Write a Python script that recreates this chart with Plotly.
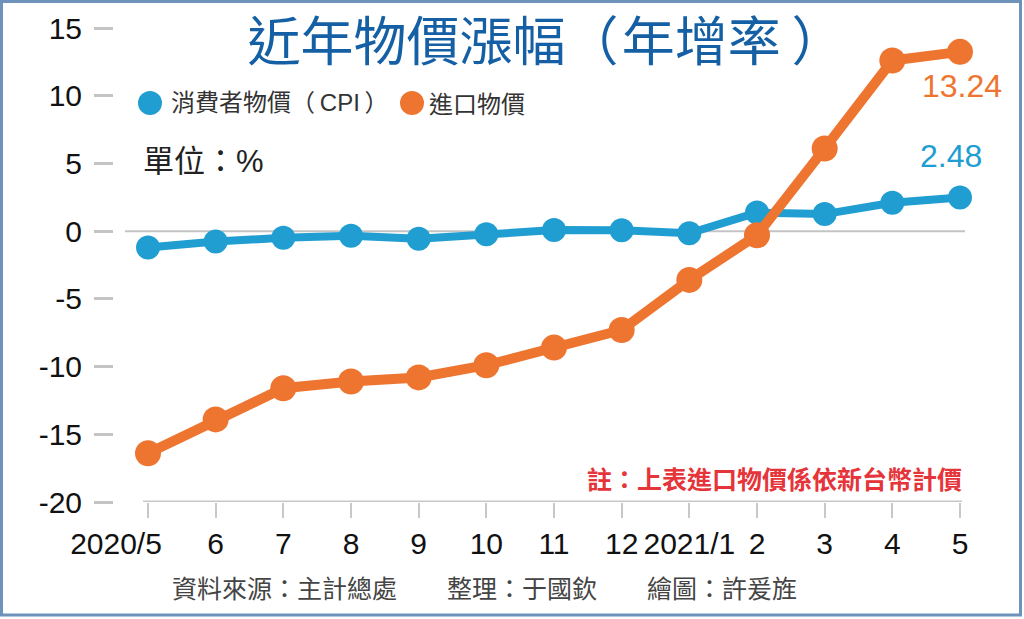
import plotly.graph_objects as go

# month labels on the x axis
months = ["2020/5", "6", "7", "8", "9", "10", "11", "12", "2021/1", "2", "3", "4", "5"]

# year-over-year change, %
cpi = [-1.20, -0.77, -0.49, -0.34, -0.57, -0.23, 0.08, 0.06, -0.16, 1.37, 1.26, 2.09, 2.48]
import_prices = [-16.4, -13.9, -11.6, -11.1, -10.8, -9.9, -8.6, -7.3, -3.6, -0.3, 6.1, 12.6, 13.24]

y_ticks = [-20, -15, -10, -5, 0, 5, 10, 15]

blue = "#219ed1"
orange = "#ee7530"
font_family = "Liberation Sans, Noto Sans CJK TC, sans-serif"
cjk_family = "Noto Sans CJK TC, sans-serif"

idx = list(range(len(months)))
last = len(months) - 1
x_range = [-0.5024, 12.074]

fig = go.Figure()

fig.add_trace(go.Scatter(
    x=idx, y=cpi, mode="lines+markers", name="消費者物價（CPI）",
    line=dict(color=blue, width=8),
    marker=dict(color=blue, size=24),
    cliponaxis=False, showlegend=False,
))
# on the overlay axis (same range) so it is drawn above the CPI line
fig.add_trace(go.Scatter(
    x=idx, y=import_prices, mode="lines+markers", name="進口物價",
    xaxis="x2",
    line=dict(color=orange, width=10),
    marker=dict(color=orange, size=26),
    cliponaxis=False, showlegend=False,
))

# plot area in pixels: x 114..965, y 28..502
def px(x):
    return (x - 114) / 851

def py(y):
    return (502 - y) / 474

shapes = [
    # outer frame
    dict(type="rect", xref="paper", yref="paper",
         x0=px(1.5), x1=px(1020.5), y0=py(615), y1=py(1.5),
         line=dict(color="#6f92bb", width=3), layer="below"),
    # zero line
    dict(type="line", xref="x", yref="y", x0=-0.34, x1=12.074, y0=0, y1=0,
         line=dict(color="#c4c4c4", width=2), layer="below"),
    # bottom axis line
    dict(type="line", xref="x", yref="y", x0=-0.074, x1=12.03, y0=-20, y1=-20,
         line=dict(color="#c8c8c8", width=3), layer="below"),
    # legend dots
    dict(type="circle", xref="paper", yref="paper", xsizemode="pixel", ysizemode="pixel",
         xanchor=px(150), yanchor=py(103), x0=-12, x1=12, y0=-12, y1=12,
         fillcolor=blue, line=dict(width=0)),
    dict(type="circle", xref="paper", yref="paper", xsizemode="pixel", ysizemode="pixel",
         xanchor=px(412), yanchor=py(103), x0=-12, x1=12, y0=-12, y1=12,
         fillcolor=orange, line=dict(width=0)),
]

annotations = [
    dict(text="消費者物價（\u2009CPI\u2009）", xref="paper", yref="paper", x=px(169), y=py(103),
         xanchor="left", yanchor="middle", showarrow=False,
         font=dict(family=font_family, size=24, color="#333333")),
    dict(text="進口物價", xref="paper", yref="paper", x=px(427), y=py(103),
         xanchor="left", yanchor="middle", showarrow=False,
         font=dict(family=cjk_family, size=24, color="#333333")),
    dict(text="單位：%", xref="paper", yref="paper", x=px(141), y=py(161),
         xanchor="left", yanchor="middle", showarrow=False,
         font=dict(family=font_family, size=31, color="#222222")),
    dict(text=f"{import_prices[-1]:.2f}", xref="x2", x=last, y=import_prices[-1],
         xshift=2, yshift=-34, showarrow=False, xanchor="center", yanchor="middle",
         font=dict(family=font_family, size=32, color=orange)),
    dict(text=f"{cpi[-1]:.2f}", x=last, y=cpi[-1],
         xshift=-9, yshift=42, showarrow=False, xanchor="center", yanchor="middle",
         font=dict(family=font_family, size=32, color=blue)),
    dict(text="<b>註：上表進口物價係依新台幣計價</b>", xref="paper", yref="paper",
         x=px(964), y=py(478), xanchor="right", yanchor="middle", showarrow=False,
         font=dict(family=cjk_family, size=25, color="#e5343a")),
    dict(text="資料來源：主計總處　　整理：于國欽　　繪圖：許爰旌", xref="paper", yref="paper",
         x=px(170), y=py(587), xanchor="left", yanchor="middle", showarrow=False,
         font=dict(family=cjk_family, size=25, color="#444444")),
]

tick_font = dict(size=30, color="#111111")

fig.update_layout(
    width=1024, height=619,
    margin=dict(l=114, r=59, t=28, b=117),
    paper_bgcolor="white", plot_bgcolor="white",
    font=dict(family=font_family, color="#111111"),
    title=dict(text="近年物價漲幅（\u200a年增率\u2009）", x=546 / 1024, xanchor="center",
               y=1 - 42 / 619, yanchor="middle",
               font=dict(family=cjk_family, size=53, color="#1560a5")),
    shapes=shapes, annotations=annotations,
    xaxis=dict(
        range=x_range, tickvals=idx, ticktext=[""] + months[1:],
        tickangle=0, automargin=False,
        showgrid=False, showline=False, zeroline=False,
        ticks="outside", ticklen=15, tickwidth=2, tickcolor="#c8c8c8",
        tickfont=tick_font,
    ),
    # the first month label sits left of its tick in the original
    xaxis2=dict(
        overlaying="x", anchor="y", side="bottom", range=x_range,
        tickvals=idx[:1], ticktext=months[:1], ticklabelshift=-32,
        tickangle=0, automargin=False,
        showgrid=False, showline=False, zeroline=False,
        ticks="outside", ticklen=15, tickwidth=2, tickcolor="rgba(0,0,0,0)",
        tickfont=tick_font,
    ),
    yaxis=dict(
        range=[-20, 15], tickvals=y_ticks, ticktext=[str(v) for v in y_ticks],
        automargin=False,
        showgrid=False, showline=False, zeroline=False,
        ticks="outside", ticklen=19, tickwidth=3, tickcolor="#c4c4c4",
        ticklabelstandoff=6,
        tickfont=dict(size=30, color="#111111"),
    ),
)

fig.write_html("out.html", config={"displayModeBar": False},
               post_script="document.body.style.margin='0';")
